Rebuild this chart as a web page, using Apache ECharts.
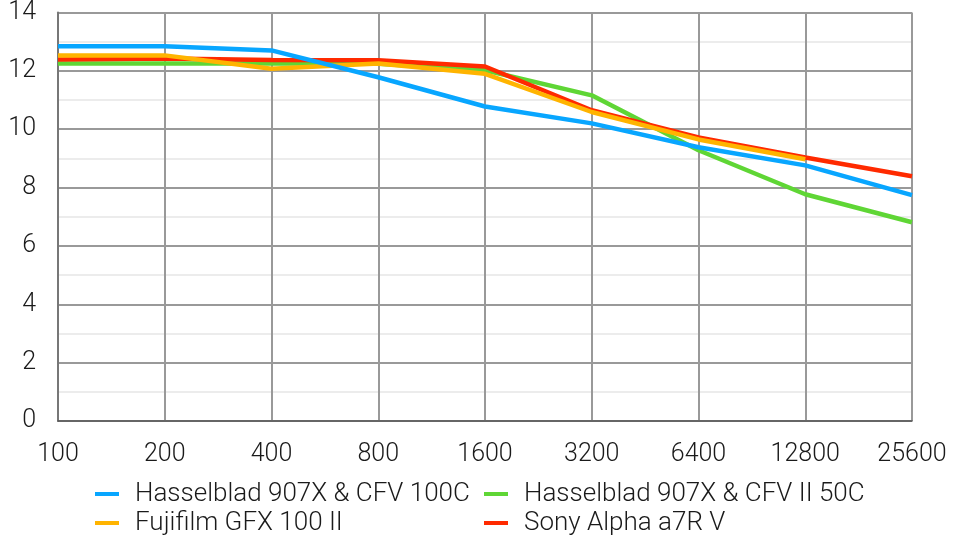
<!DOCTYPE html>
<html><head><meta charset="utf-8">
<script src="https://cdn.jsdelivr.net/npm/echarts@6/dist/echarts.min.js"></script>
<style>html,body{margin:0;padding:0;background:#fff}#c{width:959px;height:539px}</style>
</head><body><div id="c"></div>
<script>
const isoLabels = ['100','200','400','800','1600','3200','6400','12800','25600'];
const yTicks = [0,2,4,6,8,10,12,14];
const seriesNames = ['Hasselblad 907X & CFV 100C','Hasselblad 907X & CFV II 50C','Fujifilm GFX 100 II','Sony Alpha a7R V'];
const hasselblad100C = [12.84,12.84,12.7,11.78,10.78,10.2,9.38,8.76,7.74];
const hasselblad50C = [12.25,12.25,12.25,12.24,12.02,11.16,9.28,7.77,6.81];
const fujiGFX100II = [12.53,12.53,12.07,12.25,11.9,10.59,9.65,8.97,null];
const sonyA7RV = [12.39,12.42,12.37,12.36,12.15,10.65,9.72,9.03,8.39];
const colors = ['#08a6ff','#5fd635','#ffb400','#ff2a00'];

const font = 'Roboto';
const chart = echarts.init(document.getElementById('c'), null, {renderer:'canvas'});
function mk(name, data, color, z){
  return {name, type:'line', data, symbol:'none', z,
    lineStyle:{width:4.5,color}, itemStyle:{color}, connectNulls:false};
}
function lg(name, left, top){
  return {data:[name], left, top, itemWidth:24, itemHeight:4, icon:'rect',
    textStyle:{fontSize:26,color:'#1a1a1a',fontFamily:font,fontWeight:300,padding:[0,0,0,11]}};
}
chart.setOption({
  animation:false,
  textStyle:{fontFamily:font},
  grid:{left:58,right:47,top:12,bottom:118,containLabel:false},
  legend:[
    lg(seriesNames[0],90,476),
    lg(seriesNames[2],90,505),
    lg(seriesNames[1],479,476),
    lg(seriesNames[3],479,505)
  ],
  xAxis:{type:'category', data:isoLabels, boundaryGap:false,
    axisLine:{lineStyle:{color:'#555',width:1.5}}, axisTick:{show:false},
    axisLabel:{fontSize:25,color:'#1a1a1a',fontWeight:300,margin:21},
    splitLine:{show:true,lineStyle:{color:'#999',width:2}}},
  yAxis:{type:'value', min:yTicks[0], max:yTicks[yTicks.length-1], interval:2,
    axisLine:{show:true,lineStyle:{color:'#777',width:2}}, axisTick:{show:false},
    axisLabel:{fontSize:25,color:'#1a1a1a',fontWeight:300,margin:22,padding:[6,0,0,0]},
    splitLine:{lineStyle:{color:'#999',width:2}},
    minorTick:{show:false,splitNumber:2},
    minorSplitLine:{show:true,lineStyle:{color:'#e6e6e6',width:1.5}}},
  series:[
    mk(seriesNames[1],hasselblad50C,colors[1],3),
    mk(seriesNames[3],sonyA7RV,colors[3],4),
    mk(seriesNames[2],fujiGFX100II,colors[2],5),
    mk(seriesNames[0],hasselblad100C,colors[0],6)
  ]
});
</script></body></html>
